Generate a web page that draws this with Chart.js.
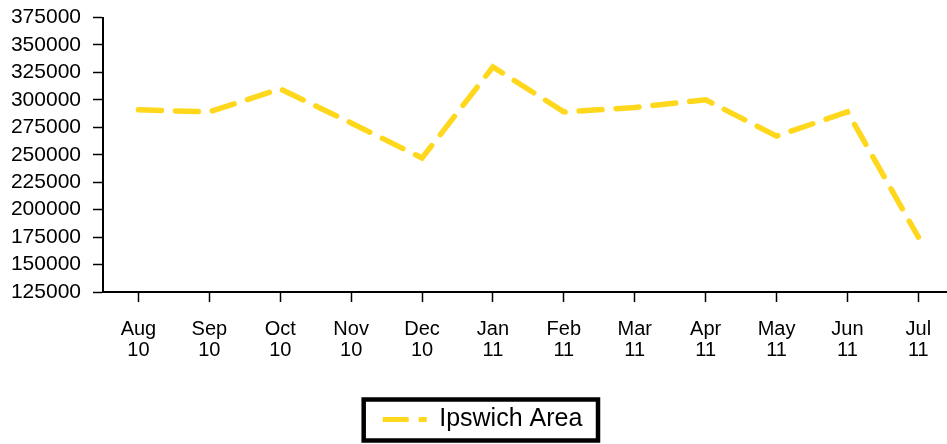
<!DOCTYPE html>
<html>
<head>
<meta charset="utf-8">
<script src="https://cdn.jsdelivr.net/npm/chart.js@4.4.1/dist/chart.umd.min.js"></script>
<style>
  html, body { margin: 0; padding: 0; background: #fff; overflow: hidden; }
  #wrap { width: 947px; height: 444px; }
</style>
</head>
<body>
<div id="wrap"><canvas id="c" width="947" height="444"></canvas></div>
<script>
// ---- Data ----
const categories = ['Aug 10', 'Sep 10', 'Oct 10', 'Nov 10', 'Dec 10', 'Jan 11',
                    'Feb 11', 'Mar 11', 'Apr 11', 'May 11', 'Jun 11', 'Jul 11'];
const seriesName = 'Ipswich Area';
const ipswichValues = [291000, 289000, 310000, 279000, 247000, 330000,
                       289000, 293000, 300000, 267000, 289000, 175000];
const yTickValues = [125000, 150000, 175000, 200000, 225000, 250000,
                     275000, 300000, 325000, 350000, 375000];

// ---- Chart ----
Chart.defaults.font.family = "'Liberation Sans', Arial, sans-serif";
Chart.defaults.color = '#000';

const legendTweaks = {
  id: 'legendTweaks',
  afterLayout(chart) {
    const lg = chart.legend;
    if (!lg) return;
    lg.left += 9;
    lg.right += 9;
  },
  afterDraw(chart) {
    const lg = chart.legend;
    if (!lg || !lg.legendHitBoxes || !lg.legendHitBoxes.length) return;
    const hb = lg.legendHitBoxes[0];
    const ctx = chart.ctx;
    ctx.save();
    ctx.lineWidth = 4.5;
    ctx.strokeStyle = '#000';
    ctx.setLineDash([]);
    ctx.strokeRect(hb.left - 19, hb.top - 7.5, hb.width + 34.7, hb.height + 16);
    ctx.restore();
  }
};

const points = categories.map((c, i) => ({ x: i, y: ipswichValues[i] }));

new Chart(document.getElementById('c'), {
  type: 'line',
  data: {
    datasets: [{
      label: seriesName,
      data: points,
      borderColor: 'rgb(255,216,30)',
      backgroundColor: 'rgb(255,216,30)',
      borderWidth: 5.5,
      borderDash: [23, 14],
      borderCapStyle: 'round',
      borderJoinStyle: 'miter',
      pointRadius: 0,
      pointHoverRadius: 0,
      tension: 0,
      fill: false
    }]
  },
  options: {
    responsive: false,
    animation: false,
    devicePixelRatio: 1,
    layout: { padding: { top: 17.5, left: 0, right: 0, bottom: 2 } },
    plugins: {
      tooltip: { enabled: false },
      legend: {
        position: 'bottom',
        align: 'center',
        labels: {
          usePointStyle: true,
          pointStyle: 'line',
          pointStyleWidth: 44,
          padding: 10,
          font: { size: 25 },
          color: '#000',
          generateLabels: (chart) => {
            const items = Chart.defaults.plugins.legend.labels.generateLabels(chart);
            items.forEach(it => { it.lineDash = [26, 10]; it.lineCap = 'butt'; it.lineWidth = 5; });
            return items;
          }
        }
      }
    },
    scales: {
      x: {
        type: 'linear',
        min: -0.5,
        max: 11.404,
        afterBuildTicks: (s) => { s.ticks = categories.map((c, i) => ({ value: i })); },
        afterFit: (s) => { s.height = 105; s.paddingLeft = 0; s.paddingRight = 0; },
        grid: {
          drawOnChartArea: false,
          drawTicks: true,
          tickLength: 10,
          tickColor: '#000',
          tickWidth: 1.5
        },
        border: { display: true, color: '#000', width: 2 },
        ticks: {
          autoSkip: false,
          maxRotation: 0,
          minRotation: 0,
          padding: 16.5,
          font: { size: 20, lineHeight: 1.05 },
          color: '#000',
          callback: (v) => {
            const c = categories[Math.round(v)];
            return c ? c.split(' ') : '';
          }
        }
      },
      y: {
        min: yTickValues[0],
        max: yTickValues[yTickValues.length - 1],
        afterBuildTicks: (s) => { s.ticks = yTickValues.map(v => ({ value: v })); },
        afterFit: (s) => { s.width = 103; s.paddingTop = 0; s.paddingBottom = 0; },
        grid: {
          drawOnChartArea: false,
          drawTicks: true,
          tickLength: 10,
          tickColor: '#000',
          tickWidth: 1.5
        },
        border: { display: true, color: '#000', width: 2 },
        ticks: {
          autoSkip: false,
          padding: 12,
          font: { size: 21 },
          color: '#000',
          callback: (v) => String(v)
        }
      }
    }
  },
  plugins: [legendTweaks]
});
</script>
</body>
</html>
